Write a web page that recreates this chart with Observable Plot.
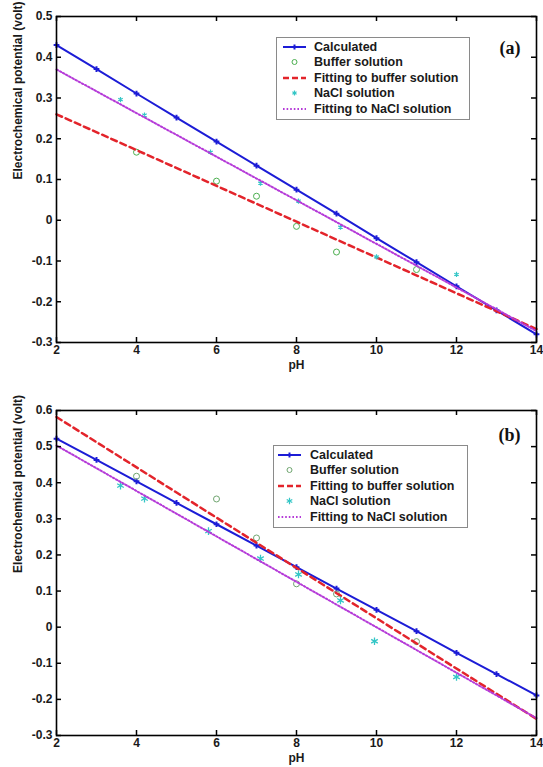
<!DOCTYPE html>
<html><head><meta charset="utf-8">
<script src="https://cdn.jsdelivr.net/npm/d3@7"></script>
<script src="https://cdn.jsdelivr.net/npm/@observablehq/plot@0.6"></script>
<style>
body{margin:0;background:#fff;}
#wrap{position:relative;width:543px;}
.panel{position:relative;width:543px;}
.legend{position:absolute;border:1px solid #8a8a8a;background:#fff;font:bold 12.5px "Liberation Sans",Arial,sans-serif;color:#1a1a1a;box-sizing:border-box;padding-top:1px;white-space:nowrap;}
.row{display:flex;align-items:center;height:15.5px;}
.row svg{flex:none;}
</style>
</head><body>
<div id="wrap"></div>
<script>
// ---------- data ----------
const pH = [2,3,4,5,6,7,8,9,10,11,12,13,14];
const fitX = [2,14];
const xTicks = [2,4,6,8,10,12,14];
const yTicksA = [-0.3,-0.2,-0.1,0,0.1,0.2,0.3,0.4,0.5];
const yTicksB = [-0.3,-0.2,-0.1,0,0.1,0.2,0.3,0.4,0.5,0.6];
const yLabel = "Electrochemical potential (volt)";
const xLabel = "pH";
const seriesNames = ["Calculated","Buffer solution","Fitting to buffer solution","NaCl solution","Fitting to NaCl solution"];

// panel (a)
const calcA = [0.430,0.371,0.311,0.252,0.193,0.134,0.075,0.016,-0.044,-0.103,-0.162,-0.221,-0.280];
const bufA_pH = [4,6,7,8,9,11];
const bufA = [0.167,0.096,0.059,-0.015,-0.078,-0.121];
const fitBufA = [0.260,-0.267];
const naclA_pH = [3.6,4.2,5.85,7.1,8.05,9.1,10,12];
const naclA = [0.296,0.258,0.167,0.091,0.047,-0.017,-0.090,-0.133];
const fitNaclA = [0.370,-0.272];

// panel (b)
const calcB = [0.522,0.463,0.404,0.344,0.285,0.226,0.166,0.107,0.048,-0.011,-0.071,-0.130,-0.189];
const bufB_pH = [4,6,7,8,9,11];
const bufB = [0.418,0.355,0.247,0.120,0.092,-0.040];
const fitBufB = [0.582,-0.254];
const naclB_pH = [3.6,4.2,5.8,7.1,8.05,9.1,9.95,12];
const naclB = [0.392,0.356,0.266,0.190,0.146,0.074,-0.039,-0.138];
const fitNaclB = [0.503,-0.252];

// ---------- styles ----------
const C = {calc:"#1c1cd6", buf:"#4caf50", fitBuf:"#e3242b", nacl:"#33c6c6", fitNacl:"#b53ad8"};
const fmt = d => String(+(+d).toFixed(1));
const zip = (xs, ys) => xs.map((x,i) => ({x, y: ys[i]}));

function panel(o){
  const W = 543, mL = 56, mR = 7;
  const fh = o.height - o.mt - o.mb, fw = W - mL - mR;
  const calc = zip(pH, o.calc), buf = zip(o.bufX, o.buf), nacl = zip(o.naclX, o.nacl);
  const fb = zip(fitX, o.fitBuf), fn = zip(fitX, o.fitNacl);
  return Plot.plot({
    width: W, height: o.height, marginLeft: mL, marginRight: mR, marginTop: o.mt, marginBottom: o.mb,
    x: {domain: [2,14]}, y: {domain: o.yDomain},
    style: {fontFamily: "'Liberation Sans', Arial, sans-serif", fontWeight: "bold", fontSize: "12px", color: "#1a1a1a", background: "#fff"},
    marks: [
      Plot.line(calc, {x:"x", y:"y", stroke:C.calc, strokeWidth:2}),
      Plot.dot(calc, {x:"x", y:"y", symbol:"plus", r:2, stroke:C.calc, strokeWidth:2}),
      Plot.dot(buf, {x:"x", y:"y", symbol:"circle", r:3, stroke:o.bufColor, strokeWidth:1, fill:"none"}),
      Plot.line(fb, {x:"x", y:"y", stroke:C.fitBuf, strokeWidth:2.5, strokeDasharray:"6,4"}),
      Plot.dot(nacl, {x:"x", y:"y", symbol:"asterisk", r:o.naclR, stroke:C.nacl, strokeWidth:o.naclSW}),
      Plot.line(fn, {x:"x", y:"y", stroke:C.fitNacl, strokeWidth:2, strokeDasharray:"1.6,2"}),
      Plot.frame({stroke:"#000", strokeWidth:1.6}),
      Plot.tickX(xTicks, {x:d=>d, insetTop:fh-5, stroke:"#000", strokeWidth:1.5}),
      Plot.tickX(xTicks, {x:d=>d, insetBottom:fh-5, stroke:"#000", strokeWidth:1.5}),
      Plot.tickY(o.yTicks, {y:d=>d, insetRight:fw-5, stroke:"#000", strokeWidth:1.5}),
      Plot.tickY(o.yTicks, {y:d=>d, insetLeft:fw-5, stroke:"#000", strokeWidth:1.5}),
      Plot.axisX({ticks:xTicks, tickSize:0, tickPadding:3, tickFormat:fmt, label:null}),
      Plot.axisY({ticks:o.yTicks, tickSize:0, tickPadding:4, tickFormat:fmt, label:null}),
      Plot.text([xLabel], {frameAnchor:"bottom", dy:o.xLabDy, text:d=>d, fontSize:12, fontWeight:"bold", fill:"#1a1a1a"}),
      Plot.text([yLabel], {frameAnchor:"left", dx:-38, rotate:-90, text:d=>d, fontSize:12, fontWeight:"bold", fill:"#1a1a1a"}),
      Plot.text([o.tag], {frameAnchor:"top-right", dx:-16, dy:o.tagDy, text:d=>d, textAnchor:"end", lineAnchor:"middle", fontFamily:"'Liberation Serif','Times New Roman',serif", fontSize:18, fontWeight:"bold", fill:"#111"})
    ]
  });
}

function sample(i, bufColor, naclR){
  const ns = "http://www.w3.org/2000/svg";
  const s = document.createElementNS(ns, "svg");
  s.setAttribute("width", 23); s.setAttribute("height", 10);
  let inner = "";
  if (i === 0) inner = `<line x1="0" y1="5" x2="23" y2="5" stroke="${C.calc}" stroke-width="2"/><path d="M11.5,2.6V7.4M9.1,5H13.9" stroke="${C.calc}" stroke-width="2"/>`;
  if (i === 1) inner = `<circle cx="11.5" cy="5" r="2.5" fill="none" stroke="${bufColor}" stroke-width="1"/>`;
  if (i === 2) inner = `<line x1="0" y1="5" x2="23" y2="5" stroke="${C.fitBuf}" stroke-width="2.5" stroke-dasharray="6,3"/>`;
  if (i === 3) inner = `<path d="M11.5,${5-naclR}V${5+naclR}M${11.5-naclR*0.87},${5-naclR/2}L${11.5+naclR*0.87},${5+naclR/2}M${11.5-naclR*0.87},${5+naclR/2}L${11.5+naclR*0.87},${5-naclR/2}" stroke="${C.nacl}" stroke-width="1.2"/>`;
  if (i === 4) inner = `<line x1="0" y1="5" x2="23" y2="5" stroke="${C.fitNacl}" stroke-width="2" stroke-dasharray="1.6,2"/>`;
  s.innerHTML = inner;
  return s;
}

function legend(div, pos, bufColor, naclR){
  const L = document.createElement("div");
  L.className = "legend";
  Object.assign(L.style, {left:pos.left+"px", top:pos.top+"px", width:pos.width+"px", height:pos.height+"px"});
  seriesNames.forEach((name, i) => {
    const r = document.createElement("div"); r.className = "row";
    const s = sample(i, bufColor, naclR);
    s.style.marginLeft = pos.ml + "px"; s.style.marginRight = pos.mr + "px";
    r.appendChild(s);
    const t = document.createElement("span"); t.textContent = name; r.appendChild(t);
    L.appendChild(r);
  });
  div.appendChild(L);
}

const wrap = document.getElementById("wrap");

const pa = document.createElement("div"); pa.className = "panel";
pa.appendChild(panel({height:376, mt:16, mb:34, yDomain:[-0.3,0.5], yTicks:yTicksA, calc:calcA,
  bufX:bufA_pH, buf:bufA, fitBuf:fitBufA, naclX:naclA_pH, nacl:naclA, fitNacl:fitNaclA,
  bufColor:C.buf, naclR:2.4, naclSW:1.2, tag:"(a)", tagDy:32, xLabDy:26}));
legend(pa, {left:276, top:37, width:194, height:83, ml:6, mr:8}, C.buf, 2.4);
wrap.appendChild(pa);

const pb = document.createElement("div"); pb.className = "panel";
pb.appendChild(panel({height:391, mt:34, mb:32, yDomain:[-0.3,0.6], yTicks:yTicksB, calc:calcB,
  bufX:bufB_pH, buf:bufB, fitBuf:fitBufB, naclX:naclB_pH, nacl:naclB, fitNacl:fitNaclB,
  bufColor:"#6fa56f", naclR:3.6, naclSW:1.3, tag:"(b)", tagDy:25, xLabDy:26}));
legend(pb, {left:273, top:69, width:195, height:83, ml:4, mr:9}, "#6fa56f", 3.2);
wrap.appendChild(pb);
</script>
</body></html>
